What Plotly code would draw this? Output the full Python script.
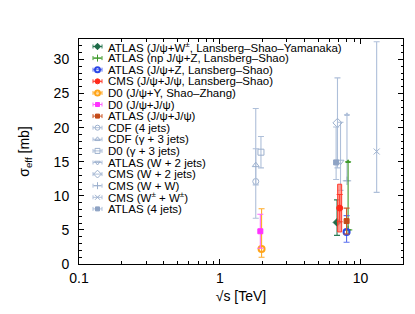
import math
import plotly.graph_objects as go

# ---------------- data ----------------
labels = [
    "ATLAS (J/ψ+W<sup>±</sup>, Lansberg–Shao–Yamanaka)",
    "ATLAS (np J/ψ+Z, Lansberg–Shao)",
    "ATLAS (J/ψ+Z, Lansberg–Shao)",
    "CMS (J/ψ+J/ψ, Lansberg–Shao)",
    "D0 (J/ψ+Υ, Shao–Zhang)",
    "D0 (J/ψ+J/ψ)",
    "ATLAS (J/ψ+J/ψ)",
    "CDF (4 jets)",
    "CDF (γ + 3 jets)",
    "D0 (γ + 3 jets)",
    "ATLAS (W + 2 jets)",
    "CMS (W + 2 jets)",
    "CMS (W + W)",
    "CMS (W<sup>±</sup> + W<sup>±</sup>)",
    "ATLAS (4 jets)",
]
sqrt_s = [6.8, 8.15, 7.95, 7.1, 1.98, 1.94, 7.95, 1.8, 1.8, 1.96, 7.2, 6.85, 8.0, 13.0, 6.7]
sigma_eff = [6.1, 5.0, 4.7, 8.2, 2.2, 4.8, 6.3, 12.1, 14.5, 16.4, 15.0, 20.7, 12.2, 16.5, 14.9]
err_up = [3.3, 10.0, 2.4, 2.0, 5.9, 2.5, 1.9, 10.7, 2.4, 2.3, 5.8, 6.6, 9.7, 16.1, 5.2]
err_down = [1.9, 0.0, 1.5, 2.0, 1.2, 2.5, 1.9, 5.4, 2.9, 2.3, 4.2, 6.6, 0.0, 6.0, 2.5]
lower_limit = [False, True, False, False, False, False, False,
               False, False, False, False, False, True, False, False]
cms_jpsi_total_err = 3.5   # total (stat+syst) band of CMS J/psi+J/psi
x_ticks = [0.1, 1, 10]
y_ticks = [0, 5, 10, 15, 20, 25, 30]

# ---------------- styles ----------------
LIGHT = "#aebfd9"
LIGHT_M = "#9cb0cd"
line_colors = ["#2a7a55", "#3f9a2a", "#5a70f0", "#ff3a2a", "#ffab2a", "#ff66ff", "#cc5a2a",
               LIGHT, LIGHT, LIGHT, LIGHT, LIGHT, LIGHT, LIGHT, LIGHT]
marker_colors = ["#1e6b48", "#3f9a2a", "#2a46e6", "#ff2a1a", "#ffa51a", "#ff33ff", "#c44a18",
                 LIGHT_M, LIGHT_M, LIGHT_M, LIGHT_M, LIGHT_M, LIGHT_M, LIGHT_M, "#8ea3c4"]
symbols = ["diamond", "cross-thin-open", "circle-open", "circle", "circle-open", "square", "square",
           "circle-open", "triangle-up-open", "square-open", "triangle-down-open", "diamond-open",
           "cross-thin-open", "x-thin-open", "square"]
marker_sizes = [6, 6, 6, 6, 6, 5, 5, 6, 6, 6, 6, 7, 6, 6, 5]
marker_lw = [1, 1, 2, 1, 2, 1, 1, 1, 1, 1, 1, 1, 1, 1, 1]

fig = go.Figure()

# draw light (multi-jet / W) series first, then the coloured quarkonium ones
order = list(range(7, 15)) + list(range(0, 7))

for i in order:
    if i == 3:
        # CMS J/psi+J/psi: total-uncertainty box
        f = 10 ** (2.0 / 141)
        lo = sigma_eff[i] - cms_jpsi_total_err
        hi = sigma_eff[i] + cms_jpsi_total_err
        xs = [sqrt_s[i] / f, sqrt_s[i] * f, sqrt_s[i] * f, sqrt_s[i] / f, sqrt_s[i] / f]
        ys = [lo, lo, hi, hi, lo]
        fig.add_trace(go.Scatter(x=xs, y=ys, mode="lines", fill="toself",
                                 fillcolor="rgba(255,120,110,0.75)",
                                 line=dict(color="#ff3a2a", width=1),
                                 hoverinfo="skip", showlegend=False))
    fig.add_trace(go.Scatter(
        x=[sqrt_s[i]], y=[sigma_eff[i]], mode="markers",
        marker=dict(symbol=symbols[i], size=marker_sizes[i], color=marker_colors[i],
                    line=dict(color=marker_colors[i], width=marker_lw[i])),
        error_y=dict(type="data", symmetric=False, array=[err_up[i]], arrayminus=[err_down[i]],
                     color=line_colors[i], thickness=1.1, width=3),
        showlegend=False, name=labels[i]))
    if lower_limit[i]:
        fig.add_trace(go.Scatter(
            x=[sqrt_s[i]], y=[sigma_eff[i] + err_up[i]], mode="markers",
            marker=dict(symbol="triangle-up", size=5, color=line_colors[i]),
            showlegend=False, hoverinfo="skip"))

# ---------------- hand-made compact legend ----------------
plot_w, plot_h = 324.0, 225.0
first_y_px, step_px = 7.5, 11.6
sym_cx = 18.5 / plot_w
sym_hw = 4.5 / plot_w
text_x = 27.0 / plot_w
for i, lab in enumerate(labels):
    yy = 1 - (first_y_px + i * step_px) / plot_h
    fig.add_trace(go.Scatter(
        x=[sym_cx], y=[yy], xaxis="x2", yaxis="y2", mode="markers",
        marker=dict(symbol=symbols[i], size=marker_sizes[i] - 1, color=marker_colors[i],
                    line=dict(color=marker_colors[i], width=marker_lw[i])),
        error_x=dict(type="data", array=[sym_hw], color=line_colors[i], thickness=1, width=2),
        showlegend=False, hoverinfo="skip"))
    fig.add_annotation(x=text_x, y=yy, xref="paper", yref="paper", text=lab,
                       showarrow=False, xanchor="left", yanchor="middle",
                       font=dict(size=11.5, color="black"))

axis_common = dict(ticks="inside", ticklen=5, tickcolor="black", showline=True, linecolor="black",
                   linewidth=1, mirror="allticks", showgrid=False, zeroline=False,
                   tickfont=dict(size=14, color="black"))

fig.update_layout(
    width=415, height=314,
    margin=dict(l=71, r=20, t=31, b=58),
    paper_bgcolor="white", plot_bgcolor="white",
    font=dict(family="Liberation Sans, Arial, sans-serif", color="black"),
    showlegend=False,
    xaxis=dict(type="log", range=[-1, math.log10(20)], tickvals=x_ticks,
               ticktext=[str(v) for v in x_ticks], ticklabelstandoff=1,
               minor=dict(ticks="inside", ticklen=3, tickcolor="black",
                          tickvals=[m * 10 ** e for e in (-1, 0, 1) for m in range(2, 10) if m * 10 ** e < 20]),
               title=dict(text="√s [TeV]", font=dict(size=14), standoff=6),
               **axis_common),
    yaxis=dict(range=[0, 33], tickvals=y_ticks, ticklabelstandoff=6,
               minor=dict(ticks="inside", ticklen=2.5, tickcolor="black", dtick=1),
               title=dict(text="σ<sub>eff</sub> [mb]", font=dict(size=14), standoff=20),
               **axis_common),
    xaxis2=dict(overlaying="x", range=[0, 1], visible=False),
    yaxis2=dict(overlaying="y", range=[0, 1], visible=False),
)

fig.write_html("out.html")
